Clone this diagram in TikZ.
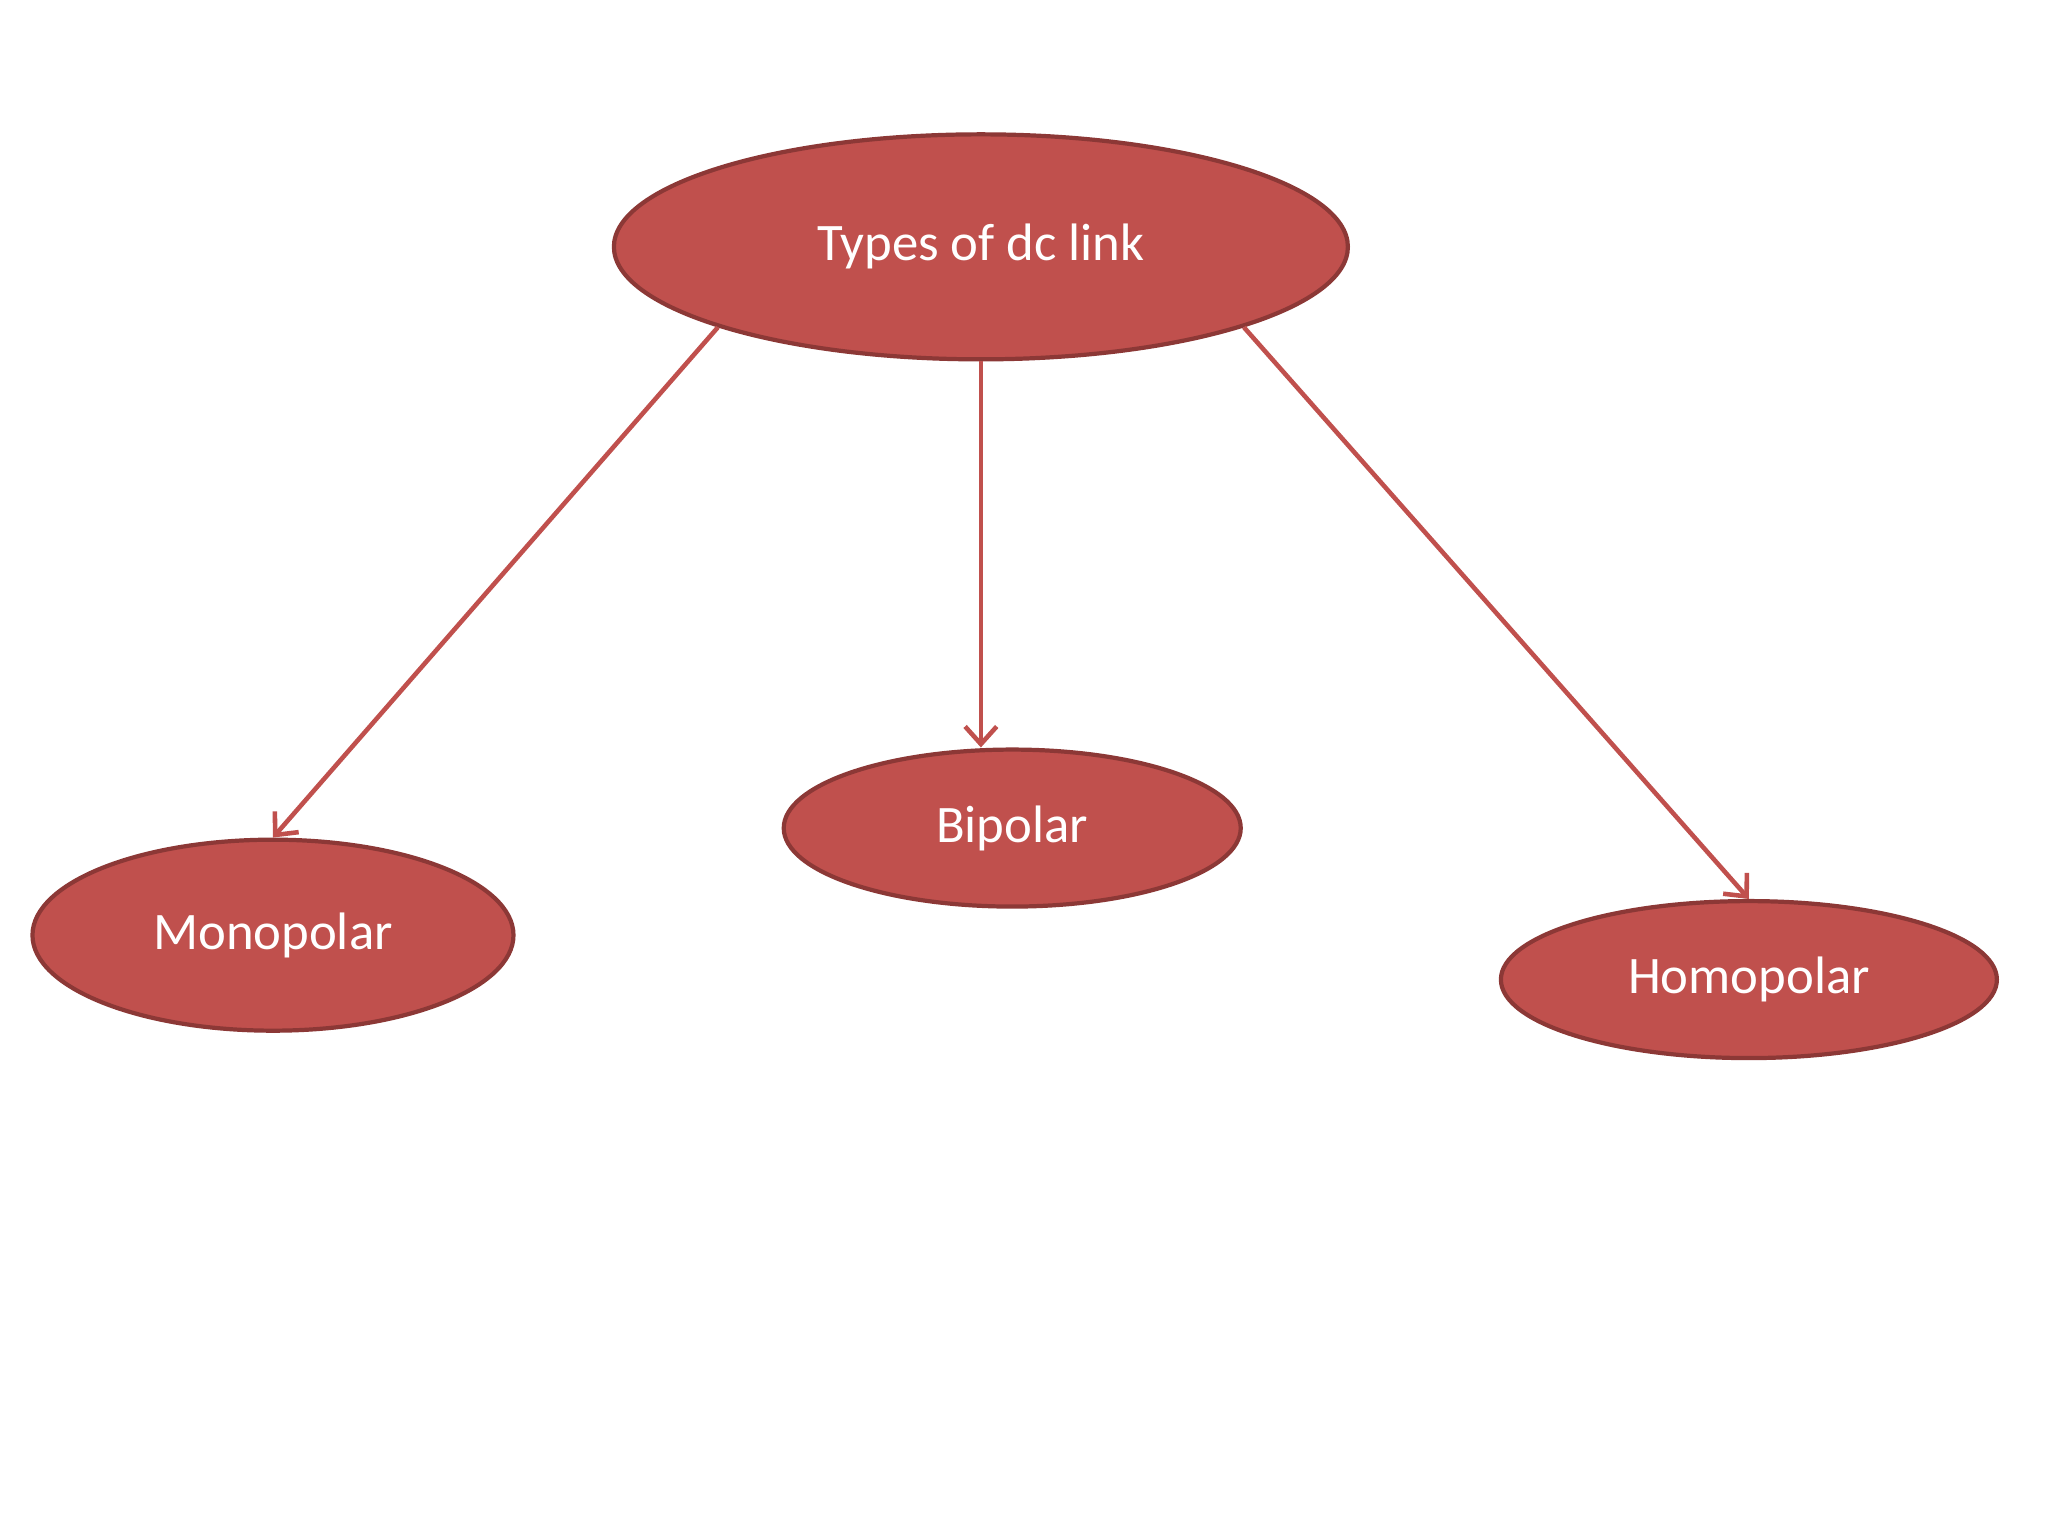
\documentclass[tikz,border=0pt]{standalone}
\usepackage{fontspec}
\setmainfont{Carlito}
\usetikzlibrary{shapes.geometric,arrows.meta}
\definecolor{fillred}{HTML}{C0504D}
\definecolor{edgered}{HTML}{8C3836}
\begin{document}
\begin{tikzpicture}[x=0.01306cm,y=-0.01306cm,
  ell/.style={ellipse,draw=edgered,line width=1.2pt,fill=fillred,text=white,inner sep=0pt,font=\fontsize{15}{18}\selectfont},
  conn/.style={draw=fillred,line width=1.3pt,-{Straight Barb[length=5pt,width=9pt]}}]
\useasboundingbox (0,0) rectangle (1568,1176);
\node[ell,minimum width=7.34cm,minimum height=2.25cm] (top) at (751,189) {Types of dc link};
\node[ell,minimum width=4.57cm,minimum height=1.57cm] (bi) at (775,634) {Bipolar};
\node[ell,minimum width=4.81cm,minimum height=1.91cm] (mono) at (209,716) {Monopolar};
\node[ell,minimum width=4.96cm,minimum height=1.57cm] (homo) at (1339,750) {Homopolar};
\draw[conn] (top.197) -- (mono.north);
\draw[conn] (top.south) -- (top.south |- bi.north);
\draw[conn] (top.343) -- (homo.north);
\end{tikzpicture}
\end{document}
